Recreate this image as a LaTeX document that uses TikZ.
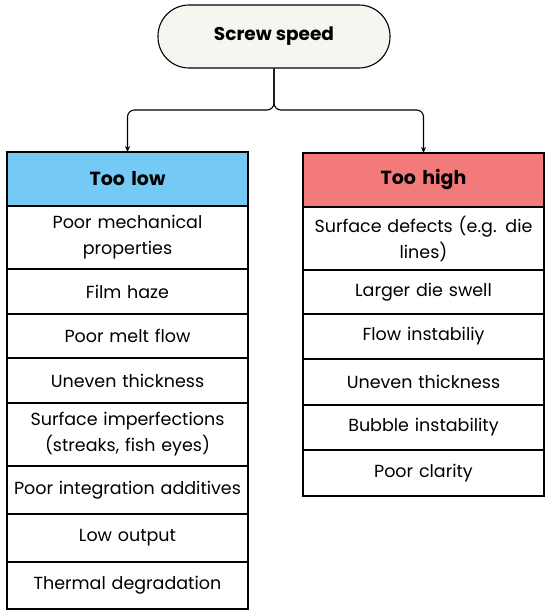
\documentclass[tikz,border=0pt]{standalone}
\usepackage{fontspec}
\setmainfont{Poppins}
\usetikzlibrary{positioning,arrows.meta}
\definecolor{lowblue}{HTML}{74C9F5}
\definecolor{highred}{HTML}{F37A7A}
\definecolor{rootfill}{HTML}{F6F5F0}

\begin{document}
\begin{tikzpicture}[x=1pt,y=-1pt,
  cell/.style={draw,line width=1.1pt,fill=white,outer sep=0pt,inner sep=2pt,
    text width=237pt,align=center,font=\fontsize{17.5}{26}\selectfont},
  head/.style={cell,minimum height=54pt,font=\fontsize{19}{24}\selectfont\bfseries},
  link/.style={line width=1.1pt,rounded corners=7pt,-{Stealth[length=6pt,width=5pt]}}]
\useasboundingbox (0,0) rectangle (550,616);
%
\node (root) at (274,36.5) [draw,line width=1.1pt,fill=rootfill,rounded corners=31pt,
  minimum width=232pt,minimum height=63pt,font=\fontsize{18.5}{24}\selectfont\bfseries] {Screw speed};
\coordinate (split) at (274,110);
%
\node (low) at (127.5,179) [head,fill=lowblue] {Too low};
\node (l1) [cell,minimum height=63pt,below=0pt of low] {Poor mechanical\\properties};
\node (l2) [cell,minimum height=45pt,below=0pt of l1] {Film haze};
\node (l3) [cell,minimum height=44pt,below=0pt of l2] {Poor melt flow};
\node (l4) [cell,minimum height=45pt,below=0pt of l3] {Uneven thickness};
\node (l5) [cell,minimum height=63pt,below=0pt of l4] {Surface imperfections\\(streaks, fish eyes)};
\node (l6) [cell,minimum height=48pt,below=0pt of l5] {Poor integration additives};
\node (l7) [cell,minimum height=48pt,below=0pt of l6] {Low output};
\node (l8) [cell,minimum height=47pt,below=0pt of l7] {Thermal degradation};
%
\node (high) at (423.5,180) [head,fill=highred] {Too high};
\node (h1) [cell,minimum height=63pt,below=0pt of high] {Surface defects (e.g. die\\lines)};
\node (h2) [cell,minimum height=44pt,below=0pt of h1] {Larger die swell};
\node (h3) [cell,minimum height=45pt,below=0pt of h2] {Flow instabiliy};
\node (h4) [cell,minimum height=46pt,below=0pt of h3] {Uneven thickness};
\node (h5) [cell,minimum height=45pt,below=0pt of h4] {Bubble instability};
\node (h6) [cell,minimum height=46pt,below=0pt of h5] {Poor clarity};
%%
\draw[link] (root.south) -- (split) -| (low.north);
\draw[link] (root.south) -- (split) -| (high.north);
\end{tikzpicture}
\end{document}
